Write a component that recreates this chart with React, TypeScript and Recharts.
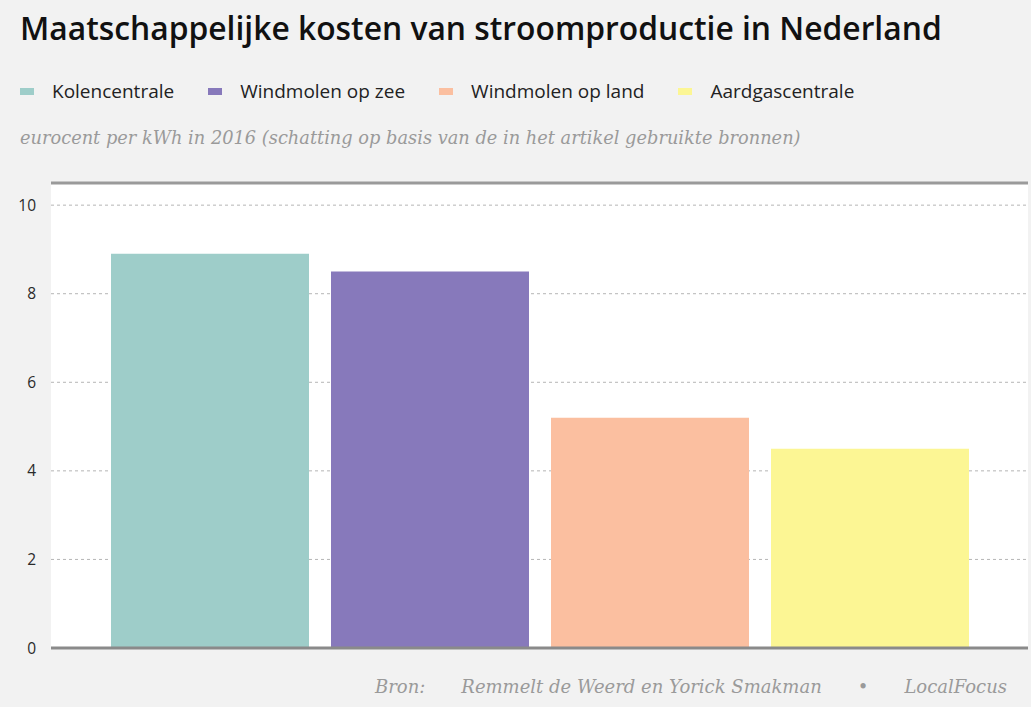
import { BarChart, Bar, XAxis, YAxis, CartesianGrid, ReferenceLine } from 'recharts'

const seriesNames = ['Kolencentrale', 'Windmolen op zee', 'Windmolen op land', 'Aardgascentrale']
const seriesKeys = ['kolen', 'zee', 'land', 'gas']
const seriesValues = [8.9, 8.5, 5.2, 4.5]
const seriesColors = ['#9ecdc9', '#8779bb', '#fbbfa0', '#fcf694']
const yTicks = [0, 2, 4, 6, 8, 10]
const category = ['2016']

const SANS = '"Open Sans", Lato, sans-serif'
const SERIF = '"DejaVu Serif", serif'

// one category, one bar per source
const chartData = category.map((name) => {
  const row: Record<string, any> = { name }
  seriesKeys.forEach((k, i) => {
    row[k] = seriesValues[i]
  })
  return row
})

export default function App() {
  return (
    <div style={{ position: 'relative', width: 1031, height: 707, background: '#f2f2f2', overflow: 'hidden' }}>
      <style>{'body{margin:0}'}</style>

      {/* Title */}
      <div
        style={{
          position: 'absolute',
          left: 20,
          top: 6,
          fontFamily: SANS,
          fontWeight: 600,
          fontSize: 31.8,
          color: '#111',
          whiteSpace: 'nowrap',
        }}
      >
        Maatschappelijke kosten van stroomproductie in Nederland
      </div>

      {/* Legend */}
      <div style={{ position: 'absolute', left: 20, top: 78, display: 'flex', alignItems: 'center', fontFamily: SANS, fontSize: 19, color: '#222' }}>
        {seriesNames.map((name, i) => (
          <div key={name} style={{ display: 'flex', alignItems: 'center', marginRight: 34 }}>
            <span style={{ display: 'inline-block', width: 14, height: 7, background: seriesColors[i], marginRight: 18 }} />
            <span>{name}</span>
          </div>
        ))}
      </div>

      {/* Subtitle */}
      <div
        style={{
          position: 'absolute',
          left: 20,
          top: 127,
          fontFamily: SERIF,
          fontStyle: 'italic',
          fontSize: 17.8,
          color: '#9a9a9a',
          whiteSpace: 'nowrap',
        }}
      >
        eurocent per kWh in 2016 (schatting op basis van de in het artikel gebruikte bronnen)
      </div>

      {/* Chart */}
      <div style={{ position: 'absolute', left: 0, top: 170 }}>
        <BarChart
          width={1031}
          height={492}
          data={chartData}
          margin={{ top: 13, right: 3, bottom: 14, left: 0 }}
          barCategoryGap={60}
          barGap={22}
        >
          <CartesianGrid vertical={false} fill="#ffffff" stroke="#b5b5b5" strokeDasharray="3 3" />
          <XAxis dataKey="name" hide />
          <YAxis
            width={51}
            domain={[0, 10.5]}
            ticks={yTicks}
            interval={0}
            axisLine={false}
            tickLine={false}
            tickSize={0}
            tickMargin={15}
            tick={{ fill: '#2a2a2a', fontSize: 15.5, fontFamily: SANS }}
          />
          {seriesKeys.map((k, i) => (
            <Bar key={k} dataKey={k} name={seriesNames[i]} fill={seriesColors[i]} isAnimationActive={false} />
          ))}
          <ReferenceLine y={10.5} stroke="#9a9a9a" strokeWidth={3} />
          <ReferenceLine y={0} stroke="#8a8a8a" strokeWidth={3} />
        </BarChart>
      </div>

      {/* Footer */}
      <div
        style={{
          position: 'absolute',
          right: 24,
          top: 676,
          fontFamily: SERIF,
          fontStyle: 'italic',
          fontSize: 18,
          color: '#9a9a9a',
          whiteSpace: 'nowrap',
          display: 'flex',
          gap: 36,
        }}
      >
        <span>Bron:</span>
        <span>Remmelt de Weerd en Yorick Smakman</span>
        <span>•</span>
        <span>LocalFocus</span>
      </div>
    </div>
  )
}
